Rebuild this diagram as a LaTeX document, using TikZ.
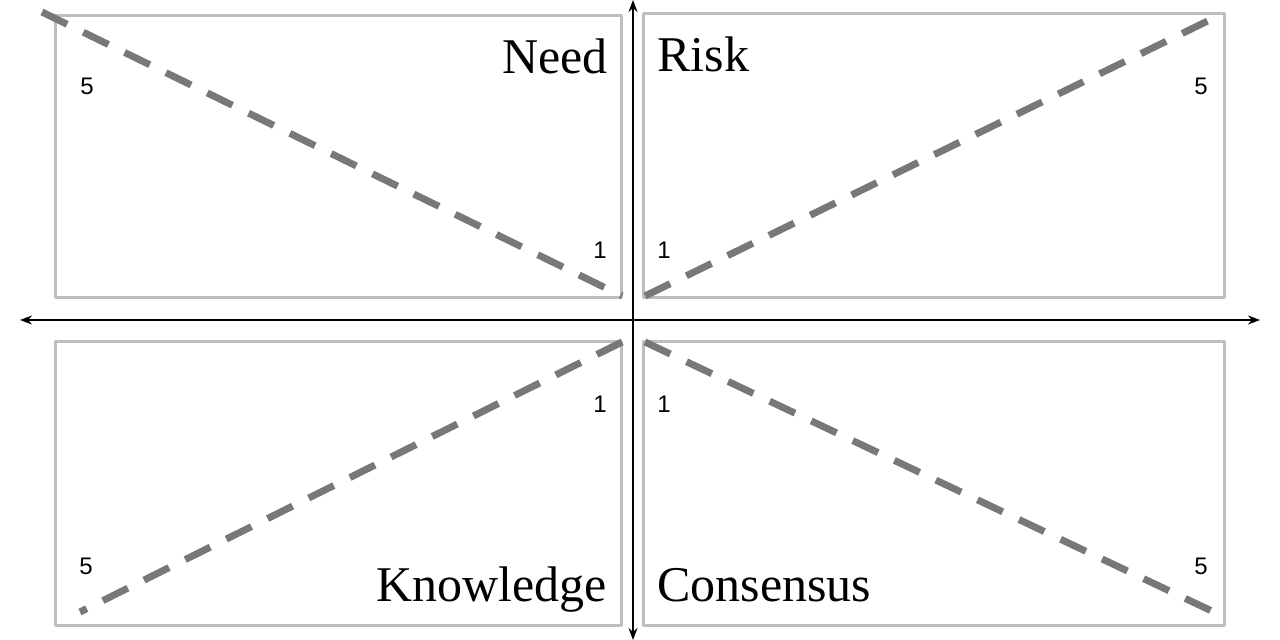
\documentclass[tikz,border=0pt]{standalone}
\usepackage{fontspec}
\setmainfont{Liberation Serif}
\newfontfamily\numfont{Liberation Sans}
\usetikzlibrary{arrows.meta, positioning}
\definecolor{boxgray}{RGB}{190,190,190}
\definecolor{dashgray}{RGB}{120,120,120}
\tikzset{quadbox/.style={draw=boxgray, line width=1.5pt},dashline/.style={draw=dashgray, line width=3.5pt, dash pattern=on 14pt off 9pt},quadlabel/.style={font=\fontsize{25}{28}\selectfont, inner sep=0pt},scorelabel/.style={font=\numfont\fontsize{12}{14}\selectfont, inner sep=0pt}}

\begin{document}
\begin{tikzpicture}[x=0.5pt, y=-0.5pt, line join=bevel]
        \useasboundingbox (0,0) rectangle (1280,640);
        % Boxes
        \draw[quadbox] (55,16) rectangle (621,298);
        \draw[quadbox] (643,14) rectangle (1224,298);
        \draw[quadbox] (55,342) rectangle (621,626);
        \draw[quadbox] (643,342) rectangle (1224,626);
        % Axes
        \coordinate (top) at (633,0);
        \coordinate (bottom) at (633,640);
        \coordinate (left) at (20,320);
        \coordinate (right) at (1260,320);
        \draw[{Stealth[length=6pt]}-{Stealth[length=6pt]}, line width=0.8pt] (left) -- (right);
        \draw[{Stealth[length=6pt]}-{Stealth[length=6pt]}, line width=0.8pt] (top) -- (bottom);
        % Dashed lines
        \coordinate (tlA) at (42,12);
        \coordinate (tlB) at (622,296);
        \coordinate (trA) at (645,296);
        \coordinate (trB) at (1222,14);
        \coordinate (blA) at (80,612);
        \coordinate (blB) at (622,342);
        \coordinate (brA) at (645,342);
        \coordinate (brB) at (1218,614);
        \draw[dashline] (tlA) -- (tlB);
        \draw[dashline] (trA) -- (trB);
        \draw[dashline] (blB) -- (blA);
        \draw[dashline] (brA) -- (brB);
        % Labels
        \node[quadlabel, anchor=base east] (need) at (608,74) {Need};
        \node[quadlabel, anchor=base west] (risk) at (657,72) {Risk};
        \node[quadlabel, anchor=base east] (knowledge) at (607,602) {Knowledge};
        \node[quadlabel, anchor=base west] (consensus) at (657,602) {Consensus};
        % Scores
        \node[scorelabel] (tl5) at (87,86) {5};
        \node[scorelabel] (tl1) at (600,250) {1};
        \node[scorelabel] (tr1) at (664,250) {1};
        \node[scorelabel] (tr5) at (1201,86) {5};
        \node[scorelabel] (bl1) at (600,404) {1};
        \node[scorelabel] (bl5) at (86,566) {5};
        \node[scorelabel] (br1) at (664,404) {1};
        \node[scorelabel] (br5) at (1201,566) {5};
    \end{tikzpicture}
\end{document}
